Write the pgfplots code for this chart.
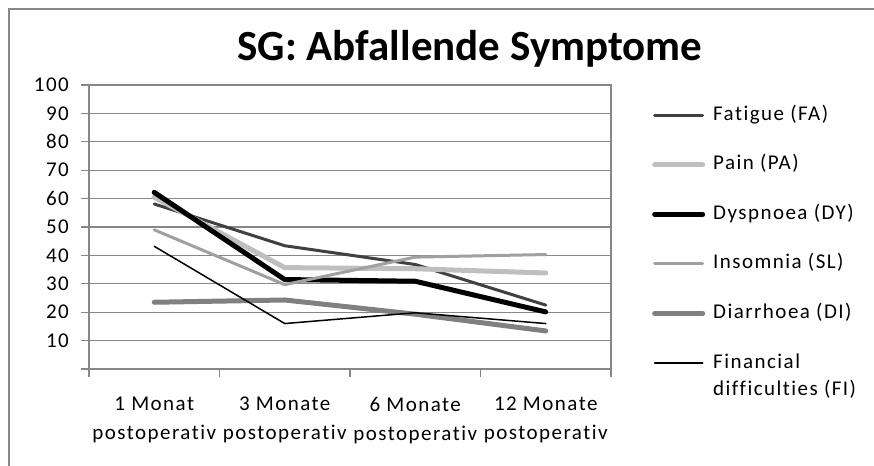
\documentclass[border=0pt]{standalone}
\usepackage{pgfplots}
\pgfplotsset{compat=1.18}
\usepackage{fontspec}
\setmainfont{Carlito}
\newfontfamily\lsfont[LetterSpace=7, Ligatures={NoCommon}]{Carlito}
\definecolor{gridgray}{HTML}{878787}
\definecolor{cFA}{HTML}{404040}
\definecolor{cPA}{HTML}{BFBFBF}
\definecolor{cSL}{HTML}{A0A0A0}
\definecolor{cDI}{HTML}{808080}
\newcommand{\lblfont}{\lsfont\fontsize{21bp}{29bp}\selectfont}

\begin{document}
\begin{tikzpicture}
\path[use as bounding box] (0,0) rectangle (874bp,466bp);
% chart frame (only top and left edges are inside the picture)
\draw[gridgray, line width=1.5bp] (9bp,0bp) -- (9bp,457bp) -- (874bp,457bp);
\node[anchor=base, font=\bfseries\fontsize{43bp}{50bp}\selectfont] at (470bp,405bp) {SG: Abfallende Symptome};

\begin{axis}[
  at={(89bp,97bp)}, anchor=south west,
  scale only axis, width=522bp, height=284bp,
  xmin=-0.5, xmax=3.5, ymin=0, ymax=100,
  xtick={0,1,2,3},
  xticklabels={{1 Monat\\postoperativ},{3 Monate\\postoperativ},{6 Monate\\postoperativ},{12 Monate\\postoperativ}},
  minor xtick={-0.5,0.5,1.5,2.5,3.5},
  major x tick style={draw=none},
  ytick={0,10,...,100},
  yticklabels={,10,20,30,40,50,60,70,80,90,100},
  tick align=outside, tick pos=left,
  major tick length=8bp, minor tick length=8bp,
  every tick/.style={gridgray, line width=1.3bp},
  axis line style={gridgray, line width=1.3bp},
  ymajorgrids, major grid style={gridgray, line width=1.3bp},
  /pgf/number format/assume math mode=true,
  ticklabel style={font=\lblfont, inner sep=0pt},
  yticklabel style={anchor=east, xshift=-12bp},
  xticklabel style={anchor=north, align=center, yshift=-20bp},
  legend cell align=left,
  legend style={at={(1.0785,0.9296)}, anchor=north west, draw=none, fill=none,
    inner sep=0pt, row sep=29.6bp, column sep=8bp, font=\lblfont,
    nodes={inner sep=0pt, text height=15bp, text depth=5bp}},
  legend image code/.code={\draw[#1] (0bp,0bp) -- (48bp,0bp);},
  every axis plot/.append style={line join=round, line cap=round},
]
\addplot[cFA, line width=3bp] coordinates {(0,58.1) (1,43.4) (2,36.8) (3,22.5)};
\addlegendentry{Fatigue (FA)}
\addplot[cPA, line width=5bp] coordinates {(0,60.5) (1,35.7) (2,35.3) (3,33.8)};
\addlegendentry{Pain (PA)}
\addplot[black, line width=5bp] coordinates {(0,62.2) (1,31.5) (2,30.9) (3,20.1)};
\addlegendentry{Dyspnoea (DY)}
\addplot[cSL, line width=3bp] coordinates {(0,49.0) (1,29.7) (2,39.4) (3,40.3)};
\addlegendentry{Insomnia (SL)}
\addplot[cDI, line width=5bp] coordinates {(0,23.5) (1,24.3) (2,19.3) (3,13.4)};
\addlegendentry{Diarrhoea (DI)}
\addplot[black, line width=1.5bp] coordinates {(0,43.2) (1,16.0) (2,19.8) (3,16.0)};
\addlegendentry{\vtop{\baselineskip=27bp\hbox{Financial}\hbox{difficulties (FI)}}}
\end{axis}
\end{tikzpicture}
\end{document}
